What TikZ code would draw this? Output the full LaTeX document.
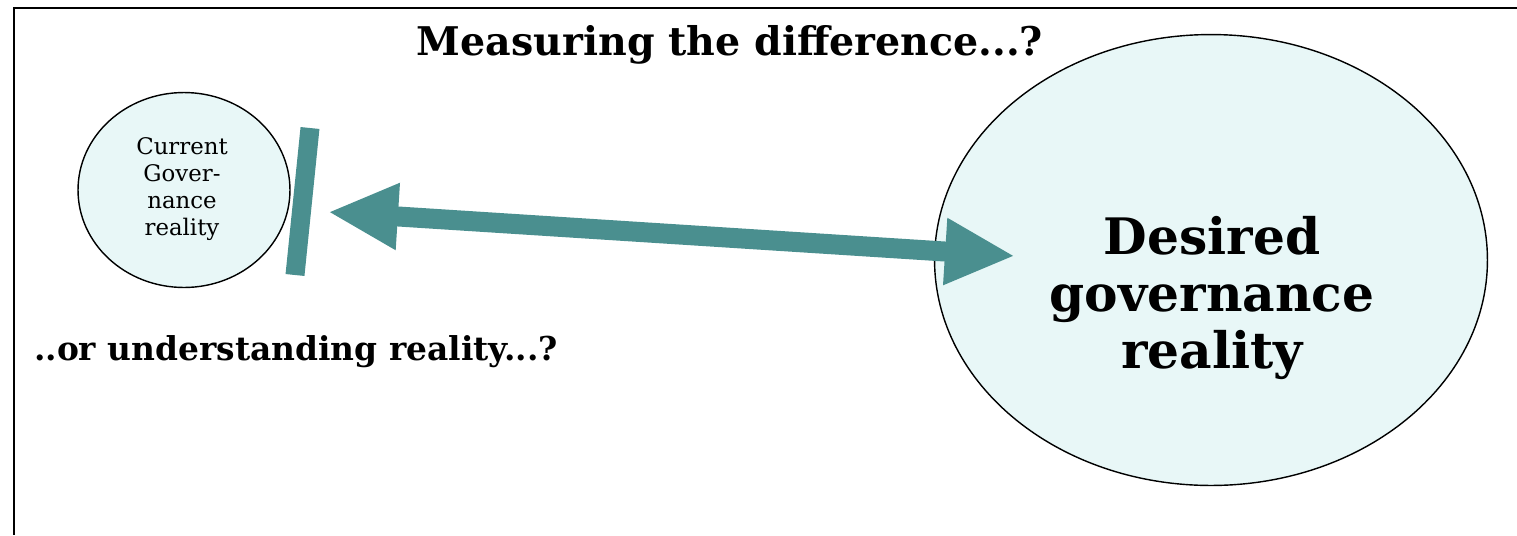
\documentclass[tikz,border=0pt]{standalone}
\usepackage{fontspec}
\setmainfont{DejaVu Serif}
\usepackage{tikz}
\usetikzlibrary{shapes.geometric, arrows.meta}
\definecolor{govteal}{RGB}{74,143,143}
\definecolor{govpale}{RGB}{232,247,247}
\tikzstyle{reality}   = [draw=black, line width=0.8pt, fill=govpale, ellipse, inner sep=0pt]
\tikzstyle{question}  = [font=\bfseries\fontsize{22.5}{26}\selectfont, inner sep=0pt]
\tikzstyle{smalltxt}  = [font=\fontsize{13}{15.4}\selectfont, align=center, inner sep=0pt]
\tikzstyle{bigtxt}    = [font=\bfseries\fontsize{28.6}{32.4}\selectfont, align=center, inner sep=0pt]
\tikzstyle{stopbar}   = [draw=govteal, line width=0.38cm]
\tikzstyle{bigarrow}  = [draw=govteal, line width=0.4cm, {Triangle[length=1.4cm,width=1.24cm]}-{Triangle[length=1.4cm,width=1.24cm]}]

\begin{document}
\begin{tikzpicture}[x=0.02cm, y=-0.02cm]
\useasboundingbox (0,0) rectangle (1517,535);

% frame
\draw[line width=1.7pt] (1517,8) -- (14,8) -- (14,535);

\node[question] (Q1) at (730,45) {Measuring the difference...?};
\node[question, font=\bfseries\fontsize{18.7}{22}\selectfont] (Q2) at (296,352) {..or understanding reality...?};

\node[reality, minimum width=4.24cm, minimum height=3.9cm] (C) at (184,190) {};
\node[smalltxt] (Ctxt) at (182,189) {Current\\Gover-\\nance\\reality};

\node[reality, minimum width=11.06cm, minimum height=9.02cm] (D) at (1211,260) {};
\node[bigtxt] (Dtxt) at (1212,298) {Desired\\governance\\reality};

\coordinate (bartop) at (310,128);
\coordinate (barbot) at (295,275);
\draw[stopbar] (bartop) -- (barbot);

\coordinate (ltip) at (328,212);
\coordinate (rtip) at (1015,256);
\draw[bigarrow] (ltip) -- (rtip);

\end{tikzpicture}
\end{document}
